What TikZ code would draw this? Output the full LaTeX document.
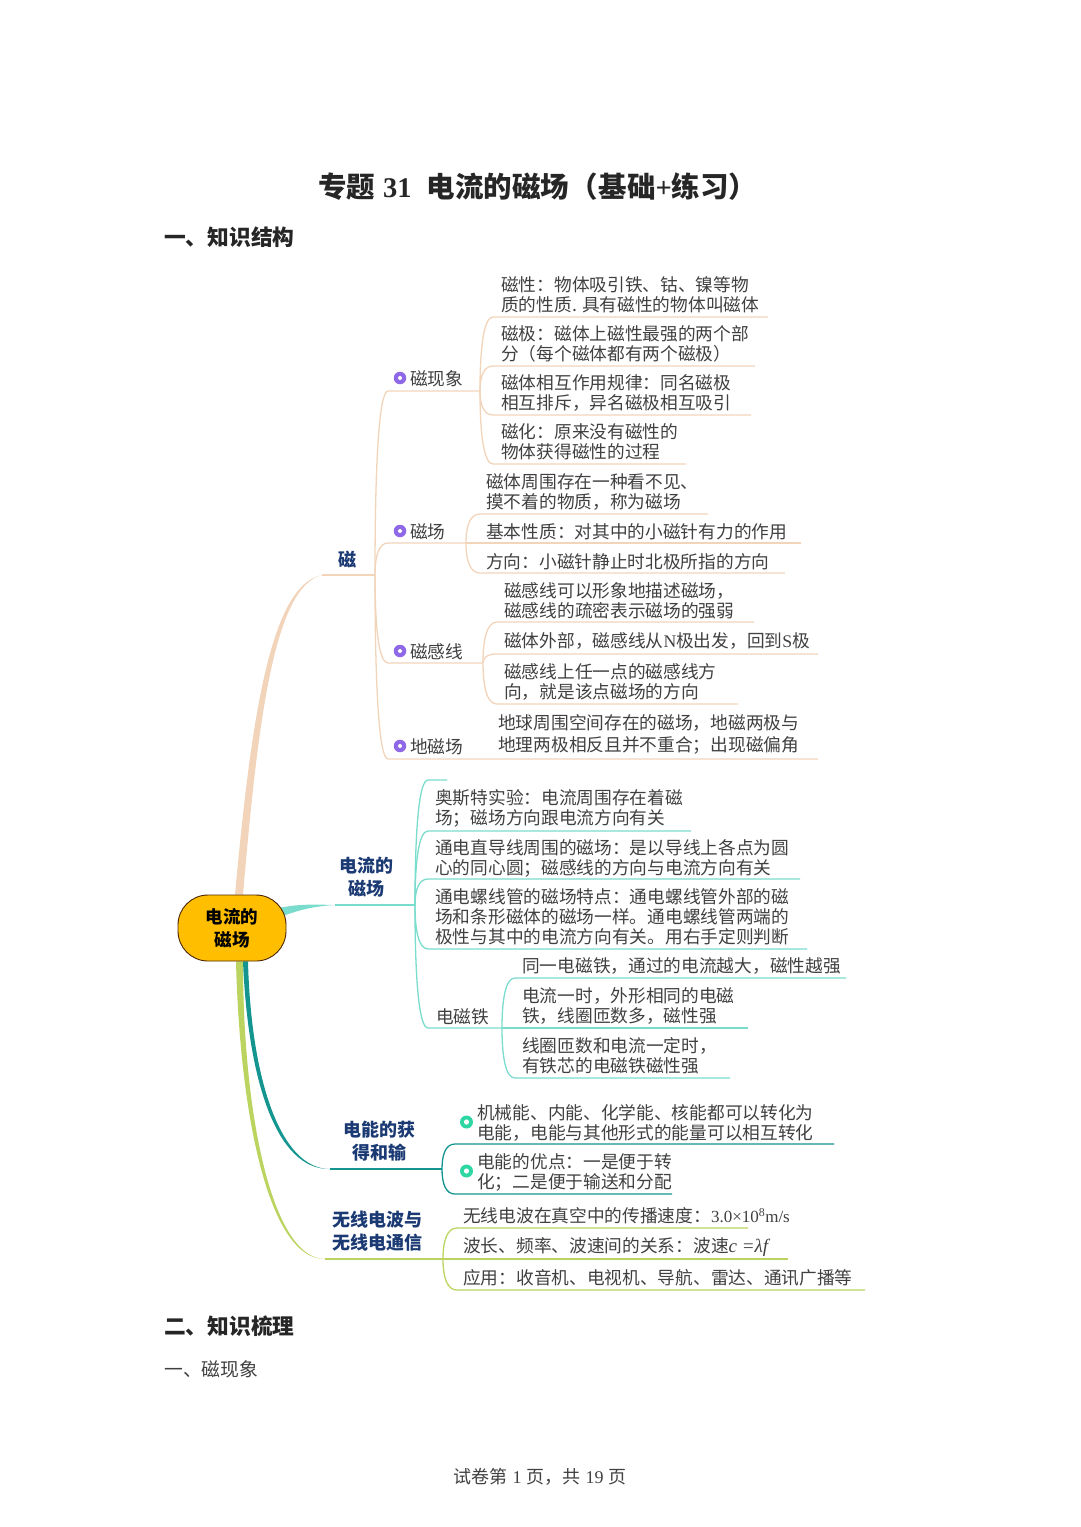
\documentclass[tikz,border=0pt]{standalone}
\usepackage{fontspec}
\setmainfont{Noto Sans CJK SC}
\newfontfamily\latf{Liberation Serif}
\usetikzlibrary{backgrounds,calc}

\definecolor{peachc}{HTML}{F2D4BA}
\definecolor{mintc}{HTML}{7ADCCC}
\definecolor{tealc}{HTML}{14958F}
\definecolor{limec}{HTML}{BAD45F}
\definecolor{bluec}{HTML}{1B3A73}
\definecolor{textc}{HTML}{404040}
\definecolor{dotpc}{HTML}{8E68E6}
\definecolor{dotgc}{HTML}{2DD6A3}

\tikzset{
  leaf/.style={anchor=west,inner sep=0pt,yshift=-1pt,align=left,text=textc,font=\fontsize{17.7}{20}\selectfont},
  head/.style={anchor=center,inner sep=0pt,align=center,text=bluec,font=\fontsize{18}{23}\selectfont\bfseries},
  sect/.style={anchor=west,inner sep=0pt,text=black!85,font=\fontsize{21.7}{24}\selectfont\bfseries},
  twig/.style={line width=1.3pt},
  rootbox/.style={draw=black!70!orange,line width=0.9pt,fill=orange!50!yellow,rounded corners=30pt,
    minimum width=108pt,minimum height=66pt,inner sep=0pt,align=center,
    font=\fontsize{17.5}{23}\selectfont\bfseries},
  dotp/.style={circle,fill=dotpc,minimum size=12.5pt,inner sep=0pt,
    path picture={\fill[white] (path picture bounding box.center) circle (2pt);}},
  dotg/.style={circle,fill=dotgc,minimum size=13pt,inner sep=0pt,
    path picture={\fill[white] (path picture bounding box.center) circle (2.6pt);}},
}

\begin{document}
\begin{tikzpicture}[x=1pt,y=-1pt]
\useasboundingbox (0,0) rectangle (1080,1527);

% page text
\node[sect,font=\fontsize{28.5}{30}\selectfont\bfseries] (title) at (318,187)
  {专题\hspace{8pt}{\latf 31}\hspace{15pt}电流的磁场（\hspace{1pt}基础{\latf +}练习）};
\node[sect] (secone) at (164,237) {一、知识结构};
\node[sect] (sectwo) at (164,1326) {二、知识梳理};
\node[leaf,yshift=1pt,font=\fontsize{18.8}{20}\selectfont] (subone) at (164,1369) {一、磁现象};
\node[leaf,yshift=1pt,anchor=center,font=\fontsize{18}{20}\selectfont] (foot) at (540,1477)
  {试卷第\hspace{5pt}{\latf 1}\hspace{5pt}页，共\hspace{5pt}{\latf 19}\hspace{5pt}页};

% root
\node[rootbox] (root) at (232,928) {电流的\\磁场};

% branch labels
\node[head] (hmag) at (347,559) {磁};
\node[head] (hcur) at (366,877.5) {电流的\\磁场};
\node[head] (hpow) at (379,1141.5) {电能的获\\得和输};
\node[head] (hwav) at (377,1231.5) {无线电波与\\无线电通信};

% forks
\coordinate (fmag) at (375,575);
\coordinate (fpha) at (480,391);
\coordinate (ffld) at (466,543);
\coordinate (flin) at (483,663);
\coordinate (fcur) at (415,905);
\coordinate (fele) at (502,1028);
\coordinate (fpow) at (442,1169);
\coordinate (fwav) at (443,1259);

% main branches
\begin{scope}[on background layer]
\coordinate (emag) at (322,575);
\coordinate (ecur) at (335,905);
\coordinate (epow) at (330,1169);
\coordinate (ewav) at (325,1259);
\fill[peachc] ([xshift=3pt]root.north) .. controls (251,720) and (270,585) .. (emag)
  .. controls (274,587) and (258,720) .. ([xshift=11pt]root.north) -- cycle;
\draw[peachc,twig] (emag) -- (fmag);
\fill[mintc] ([xshift=43pt,yshift=19pt]root.center) .. controls (295,904) and (310,904.3) .. (ecur)
  .. controls (315,906.3) and (300,909) .. ([xshift=43pt,yshift=9pt]root.center) -- cycle;
\draw[mintc,twig] (ecur) -- (fcur);
\fill[limec] ([xshift=4pt]root.south) .. controls (240,1120) and (270,1260) .. (ewav)
  .. controls (273,1259) and (243,1118) .. ([xshift=11pt]root.south) -- cycle;
\draw[limec,twig] (ewav) -- (fwav);
\fill[tealc] ([xshift=11pt]root.south) .. controls (248,1080) and (276,1170) .. (epow)
  .. controls (280,1169) and (251,1078) .. ([xshift=16pt]root.south) -- cycle;
\draw[tealc,twig] (epow) -- (fpow);
\end{scope}

% twigs: fork / name / start x / y / end x / colour
\foreach \fk/\nm/\sx/\sy/\ex/\cl in {
  fmag/ta/388/391/480/peachc, fmag/tb/388/543/466/peachc,
  fmag/tc/388/663/483/peachc, fmag/td/388/759/818/peachc,
  fpha/pa/493/317/768/peachc, fpha/pb/493/366/755/peachc,
  fpha/pc/493/415/751/peachc, fpha/pd/493/464/686/peachc,
  ffld/qa/480/514/708/peachc, ffld/qb/466/543/801/peachc, ffld/qc/480/573/785/peachc,
  flin/ra/497/622/754/peachc, flin/rb/497/654/818/peachc, flin/rc/497/704/738/peachc,
  fcur/ca/428/780/447/mintc, fcur/cb/428/831/691/mintc, fcur/cc/428/879/800/mintc,
  fcur/cd/428/949/807/mintc, fcur/ce/428/1028/502/mintc,
  fele/ea/515/978/846/mintc, fele/eb/502/1028/748/mintc, fele/ec/515/1078/730/mintc,
  fpow/ga/455/1144/834/tealc, fpow/gb/455/1194/672/tealc,
  fwav/wa/457/1228/748/limec, fwav/wb/443/1259/788/limec, fwav/wc/457/1290/865/limec}
{
  \coordinate (\nm s) at (\sx,\sy);
  \coordinate (\nm e) at (\ex,\sy);
  \draw[\cl,twig] (\fk) .. controls ($(\fk)!0.6!(\fk |- \nm s)$) and ($(\fk |- \nm s)!0.3!(\nm s)$) .. (\nm s) -- (\nm e);
}

% icons
\foreach \nm/\y in {a/378,b/531,c/651,d/746}
  \node[dotp] (ico\nm) at (400,\y) {};
\foreach \nm/\y in {a/1122,b/1171}
  \node[dotg] (icg\nm) at (466.5,\y) {};

% texts
\foreach \nm/\x/\y/\tx in {
  lpha/410/378/{磁现象}, lfld/410/531/{磁场}, llin/410/651/{磁感线}, lear/410/746/{地磁场},
  xa/501/294/{磁性：物体吸引铁、钴、镍等物\\质的性质. 具有磁性的物体叫磁体},
  xb/501/343/{磁极：磁体上磁性最强的两个部\\分（每个磁体都有两个磁极）},
  xc/501/392/{磁体相互作用规律：同名磁极\\相互排斥，异名磁极相互吸引},
  xd/501/441/{磁化：原来没有磁性的\\物体获得磁性的过程},
  ya/486/491/{磁体周围存在一种看不见、\\摸不着的物质，称为磁场},
  yb/486/531/{基本性质：对其中的小磁针有力的作用},
  yc/486/561/{方向：小磁针静止时北极所指的方向},
  za/504/600/{磁感线可以形象地描述磁场，\\磁感线的疏密表示磁场的强弱},
  zb/504/640/{磁体外部，磁感线从{\latf N}极出发，回到{\latf S}极},
  zc/504/681/{磁感线上任一点的磁感线方\\向，就是该点磁场的方向},
  zd/498/733/{地球周围空间存在的磁场，地磁两极与\\[2pt]地理两极相反且并不重合；出现磁偏角},
  ma/435/807/{奥斯特实验：电流周围存在着磁\\场；磁场方向跟电流方向有关},
  mb/435/857/{通电直导线周围的磁场：是以导线上各点为圆\\心的同心圆；磁感线的方向与电流方向有关},
  mc/435/916/{通电螺线管的磁场特点：通电螺线管外部的磁\\场和条形磁体的磁场一样。通电螺线管两端的\\极性与其中的电流方向有关。用右手定则判断},
  md/436/1016/{电磁铁},
  na/522/965/{同一电磁铁，通过的电流越大，磁性越强},
  nb/522/1005/{电流一时，外形相同的电磁\\铁，线圈匝数多，磁性强},
  nc/522/1054.5/{线圈匝数和电流一定时，\\有铁芯的电磁铁磁性强},
  ka/477/1122/{机械能、内能、化学能、核能都可以转化为\\电能，电能与其他形式的能量可以相互转化},
  kb/477/1171/{电能的优点：一是便于转\\化；二是便于输送和分配},
  ua/463/1215/{无线电波在真空中的传播速度：{\latf\fontsize{17}{20}\selectfont 3.0×10\textsuperscript{8}m/s}},
  ub/463/1246/{波长、频率、波速间的关系：波速{\latf\itshape\fontsize{19}{20}\selectfont c =λf}},
  uc/463/1277/{应用：收音机、电视机、导航、雷达、通讯广播等}}
  \node[leaf] (\nm) at (\x,\y) {\tx};

\end{tikzpicture}
\end{document}
